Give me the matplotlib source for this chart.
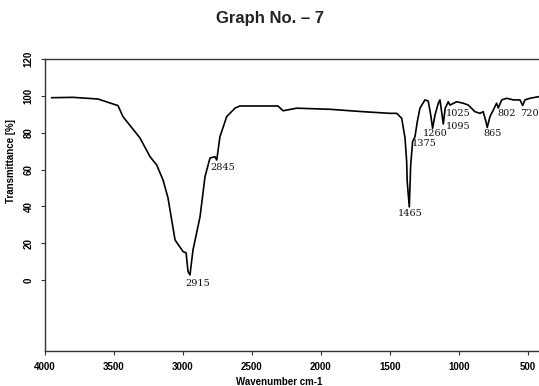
import matplotlib
matplotlib.use("Agg")
import matplotlib.pyplot as plt

# Spectrum trace (wavenumber cm-1, transmittance %)
wavenumber = [3948, 3794, 3613, 3468, 3432, 3309, 3236, 3188, 3142, 3106,
              3055, 2997, 2975, 2961, 2947, 2925, 2874, 2838, 2802, 2766,
              2753, 2730, 2681, 2620, 2585, 2310, 2273, 2174, 1933, 1694,
              1499, 1450, 1414, 1390, 1378, 1374, 1359, 1349, 1335, 1318,
              1301, 1282, 1246, 1222, 1204, 1190, 1173, 1149, 1137, 1125,
              1113, 1099, 1077, 1065, 1016, 968, 932, 884, 847, 824,
              804, 795, 775, 751, 727, 715, 690, 654, 606, 558,
              538, 522, 485, 420]
transmittance = [99.1, 99.3, 98.4, 94.8, 88.8, 77.2, 67.0, 62.5, 54.4, 44.6,
                 21.7, 15.4, 14.7, 4.5, 2.7, 16.3, 34.4, 56.2, 66.3, 67.0,
                 65.2, 77.9, 88.8, 93.5, 94.6, 94.6, 92.0, 93.4, 92.8, 91.5,
                 90.6, 90.6, 87.9, 77.2, 64.3, 53.4, 39.7, 62.5, 75.2, 77.9,
                 86.1, 93.4, 97.9, 97.3, 89.7, 82.5, 89.7, 96.1, 97.9, 91.5,
                 84.8, 93.4, 96.9, 95.1, 96.9, 96.1, 95.1, 91.5, 90.6, 91.5,
                 86.1, 82.9, 88.8, 92.4, 96.1, 93.5, 97.9, 98.8, 97.9, 97.9,
                 94.9, 97.9, 98.8, 99.7]

# Peak annotations: text, x position (cm-1), y position (%)
peak_labels = ["2915", "2845", "1465", "1375", "1260", "1095", "1025", "865", "802", "720"]
peak_x = [2889, 2708, 1350, 1248, 1173, 1007, 1003, 753, 656, 490]
peak_y = [-2.2, 61.4, 35.9, 74.2, 79.4, 83.2, 90.5, 79.7, 90.5, 90.5]

x_ticks = [4000, 3500, 3000, 2500, 2000, 1500, 1000, 500]
y_ticks = [0, 20, 40, 60, 80, 100, 120]

fig = plt.figure(figsize=(5.39, 3.86), dpi=100)
ax = fig.add_axes([0.0826, 0.0915, 0.9174, 0.7549])

ax.plot(wavenumber, transmittance, color="black", lw=1.2)

for t, x, y in zip(peak_labels, peak_x, peak_y):
    ax.text(x, y, t, ha="center", va="center", fontsize=7,
            family="DejaVu Serif", color="#111111")

ax.set_xlim(4000, 420)
ax.set_ylim(-38.5, 120)
ax.set_xticks(x_ticks)
ax.set_yticks(y_ticks)
ax.set_xticklabels([str(v) for v in x_ticks], fontsize=7, fontweight="bold",
                   family="Liberation Sans")
ax.set_yticklabels([str(v) for v in y_ticks], fontsize=7, fontweight="bold",
                   family="Liberation Sans", rotation=90, va="center")
ax.tick_params(axis="both", direction="out", length=3, width=0.8, color="#333333", pad=5)

for s in ["left", "bottom", "top"]:
    ax.spines[s].set_color("#333333")
    ax.spines[s].set_linewidth(1.0)
ax.spines["right"].set_visible(False)

ax.set_xlabel("Wavenumber cm-1", fontsize=7, fontweight="bold", family="Liberation Sans",
              labelpad=2)
ax.xaxis.set_label_coords(0.475, -0.09)
ax.set_ylabel("Transmittance [%]", fontsize=7, fontweight="bold", family="Liberation Sans")
ax.yaxis.set_label_coords(-0.057, 0.65)

fig.text(0.5, 0.953, "Graph No. \u2013 7", ha="center", va="center", fontsize=12,
         fontweight="bold", family="Liberation Sans", color="#222222")

fig.savefig("out.png", dpi=100)
